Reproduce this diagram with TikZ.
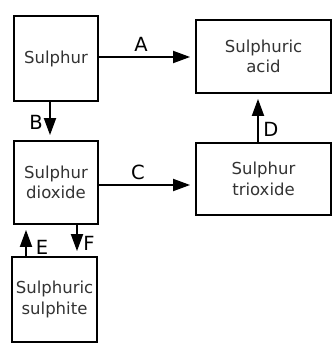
\documentclass[tikz,border=0pt]{standalone}
\usepackage{fontspec}
\setmainfont{DejaVu Sans}
\usetikzlibrary{arrows.meta}
\begin{document}
\begin{tikzpicture}[x=1pt,y=-1pt,
  box/.style={draw, line width=1.8pt, rectangle, inner sep=0pt, align=center,
    font=\fontsize{16.5}{20.5}\selectfont, text=black!80},
  lbl/.style={inner sep=0pt, font=\fontsize{19.5}{20}\selectfont},
  arr/.style={line width=1.8pt, -{Triangle[length=17pt,width=12pt]}, shorten >=5pt}]
\useasboundingbox (0,0) rectangle (334,343);
\node[box, minimum width=84pt, minimum height=85pt] (s) at (56,58.5) {Sulphur};
\node[box, minimum width=135pt, minimum height=73pt] (sa) at (263.5,56.5) {Sulphuric\\acid};
\node[box, minimum width=84pt, minimum height=83pt] (sd) at (56,182.5) {Sulphur\\dioxide};
\node[box, minimum width=135pt, minimum height=72pt] (st) at (263.5,179) {Sulphur\\trioxide};
\node[box, minimum width=85pt, minimum height=85pt] (ss) at (54.5,299.5) {Sulphuric\\sulphite};
\draw[arr] (s.east |- 0,57) coordinate (a0) -- (sa.west |- a0);
\draw[arr] (sd.east |- 0,185) coordinate (c0) -- (st.west |- c0);
\draw[arr] (s.south -| 50,0) coordinate (b0) -- (sd.north -| b0);
\draw[arr] (st.north -| 258,0) coordinate (d0) -- (sa.south -| d0);
\draw[arr] (ss.north -| 26,0) coordinate (e0) -- (sd.south -| e0);
\draw[arr] (sd.south -| 77,0) coordinate (f0) -- (ss.north -| f0);
\node[lbl] (la) at (141,44) {A};
\node[lbl] (lb) at (36,122) {B};
\node[lbl] (lc) at (138,172) {C};
\node[lbl] (ld) at (271,129) {D};
\node[lbl] (le) at (42,247) {E};
\node[lbl] (lf) at (89,243) {F};
\end{tikzpicture}
\end{document}
